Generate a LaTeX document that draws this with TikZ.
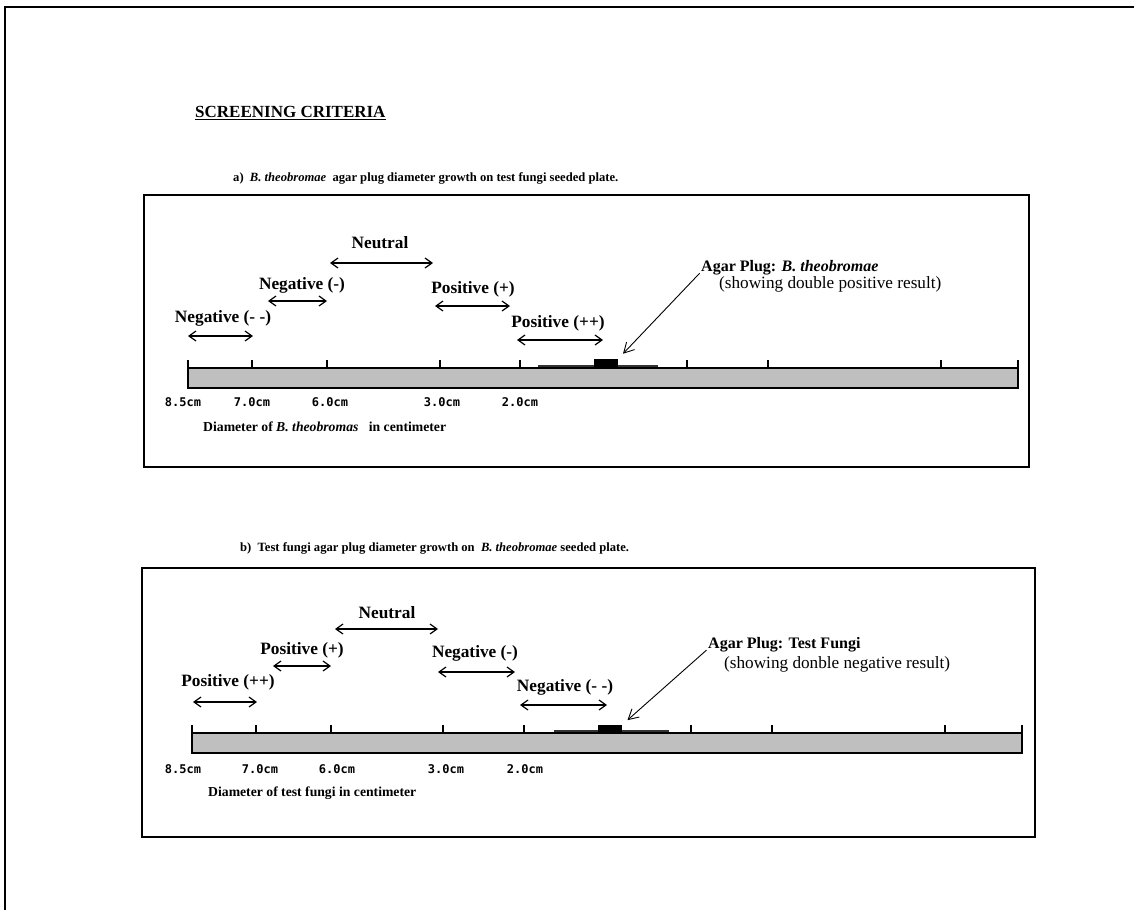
\documentclass[tikz,border=0pt]{standalone}
\usepackage{fontspec}
\setmainfont{Liberation Serif}
\newfontfamily\scalefont{DejaVu Sans Mono}
\usetikzlibrary{arrows.meta}

\begin{document}
\begin{tikzpicture}[x=1pt, y=-1pt,
    pageframe/.style={line width=1.6pt},
    panelbox/.style={line width=1.5pt},
    scalebar/.style={fill=black!25, draw=black, line width=1.3pt},
    scaletick/.style={line width=1.1pt},
    growlayer/.style={line width=2.2pt, black!80},
    plugbox/.style={fill=black, minimum width=24pt, minimum height=8pt, inner sep=0pt},
    headtxt/.style={font=\bfseries\fontsize{17}{19}\selectfont, inner sep=0pt},
    captxt/.style={font=\bfseries\fontsize{12.6}{15}\selectfont, inner sep=0pt},
    lbltxt/.style={font=\bfseries\fontsize{17.3}{19}\selectfont, inner sep=0pt},
    agartxt/.style={font=\bfseries\fontsize{16}{18}\selectfont, inner sep=0pt},
    notetxt/.style={font=\fontsize{17.2}{19}\selectfont, inner sep=0pt},
    numtxt/.style={font=\scalefont\bfseries\fontsize{12}{14}\selectfont, inner sep=0pt},
    axistxt/.style={font=\bfseries\fontsize{13.7}{15}\selectfont, inner sep=0pt},
    spanarrow/.style={arrows={Straight Barb[length=7pt,width=10pt]-Straight Barb[length=7pt,width=10pt]}, line width=1.2pt},
    ptrarrow/.style={-{Straight Barb[length=10pt,width=11pt]}, line width=0.9pt}]
\useasboundingbox (0,0) rectangle (1134,910);
% Page frame and heading
\draw[pageframe] (5,910) -- (5,7) -- (1134,7);
\node[headtxt, anchor=west] (title) at (195,113) {\underline{SCREENING CRITERIA}};

% Panel a): B. theobromae plug on seeded plate
\node[captxt, anchor=west] (capA) at (233,178) {a)\enspace\textit{B. theobromae}\enspace agar plug diameter growth on test fungi seeded plate.};
\draw[panelbox] (144,195) rectangle (1029,467);
\draw[scalebar] (188,368) rectangle (1018,388);
\foreach \x in {188,252,327,440,520,687,768,941,1018}
  \draw[scaletick] (\x,360) -- (\x,368);
\draw[growlayer] (538,366) -- (658,366);
\node[plugbox] (plugA) at (606,363) {};
\node[lbltxt] (negddA) at (223,318) {Negative (- -)};
\draw[spanarrow] (188,336) -- (253,336);
\node[lbltxt] (negdA) at (302,285) {Negative (-)};
\draw[spanarrow] (268,301) -- (327,301);
\node[lbltxt] (neutA) at (380,243) {Neutral};
\draw[spanarrow] (330,263) -- (433,263);
\node[lbltxt] (pospA) at (473,289) {Positive (+)};
\draw[spanarrow] (435,306) -- (510,306);
\node[lbltxt] (posppA) at (558,323) {Positive (++)};
\draw[spanarrow] (517,340) -- (603,340);
\node[agartxt, anchor=west] (agarA) at (701,268) {Agar Plug: \textit{B. theobromae}};
\node[notetxt, anchor=west] (showA) at (719,284) {(showing double positive result)};
\draw[ptrarrow, shorten <=2pt, shorten >=7pt] (agarA.base west) -- (plugA.north east);
\foreach \x/\t in {183/8.5cm, 252/7.0cm, 330/6.0cm, 442/3.0cm, 520/2.0cm}
  \node[numtxt] (nA\x) at (\x,402) {\t};
\node[axistxt, anchor=west] (diaA) at (203,427) {Diameter of \textit{B. theobromas}\hspace{7pt} in centimeter};

% Panel b): test fungi plug on seeded plate
\node[captxt, anchor=west] (capB) at (240,548) {b)\enspace Test fungi agar plug diameter growth on\enspace\textit{B. theobromae} seeded plate.};
\draw[panelbox] (142,568) rectangle (1035,837);
\draw[scalebar] (192,733) rectangle (1022,753);
\foreach \x in {192,256,331,443,524,691,772,945,1022}
  \draw[scaletick] (\x,725) -- (\x,733);
\draw[growlayer] (554,731) -- (669,731);
\node[plugbox] (plugB) at (610,729) {};
\node[lbltxt] (posppB) at (228,682) {Positive (++)};
\draw[spanarrow] (193,702) -- (257,702);
\node[lbltxt] (pospB) at (302,650) {Positive (+)};
\draw[spanarrow] (273,666) -- (331,666);
\node[lbltxt] (neutB) at (387,613) {Neutral};
\draw[spanarrow] (335,629) -- (438,629);
\node[lbltxt] (negdB) at (475,653) {Negative (-)};
\draw[spanarrow] (438,672) -- (515,672);
\node[lbltxt] (negddB) at (565,687) {Negative (- -)};
\draw[spanarrow] (520,705) -- (607,705);
\node[agartxt, anchor=west] (agarB) at (708,645) {Agar Plug: Test Fungi};
\node[notetxt, anchor=west] (showB) at (724,664) {(showing donble negative result)};
\draw[ptrarrow, shorten <=2pt, shorten >=7pt] (agarB.base west) -- (plugB.north east);
\foreach \x/\t in {183/8.5cm, 260/7.0cm, 337/6.0cm, 446/3.0cm, 525/2.0cm}
  \node[numtxt] (nB\x) at (\x,769) {\t};
\node[axistxt, anchor=west] (diaB) at (208,793) {Diameter of test fungi in centimeter};
\end{tikzpicture}
\end{document}
